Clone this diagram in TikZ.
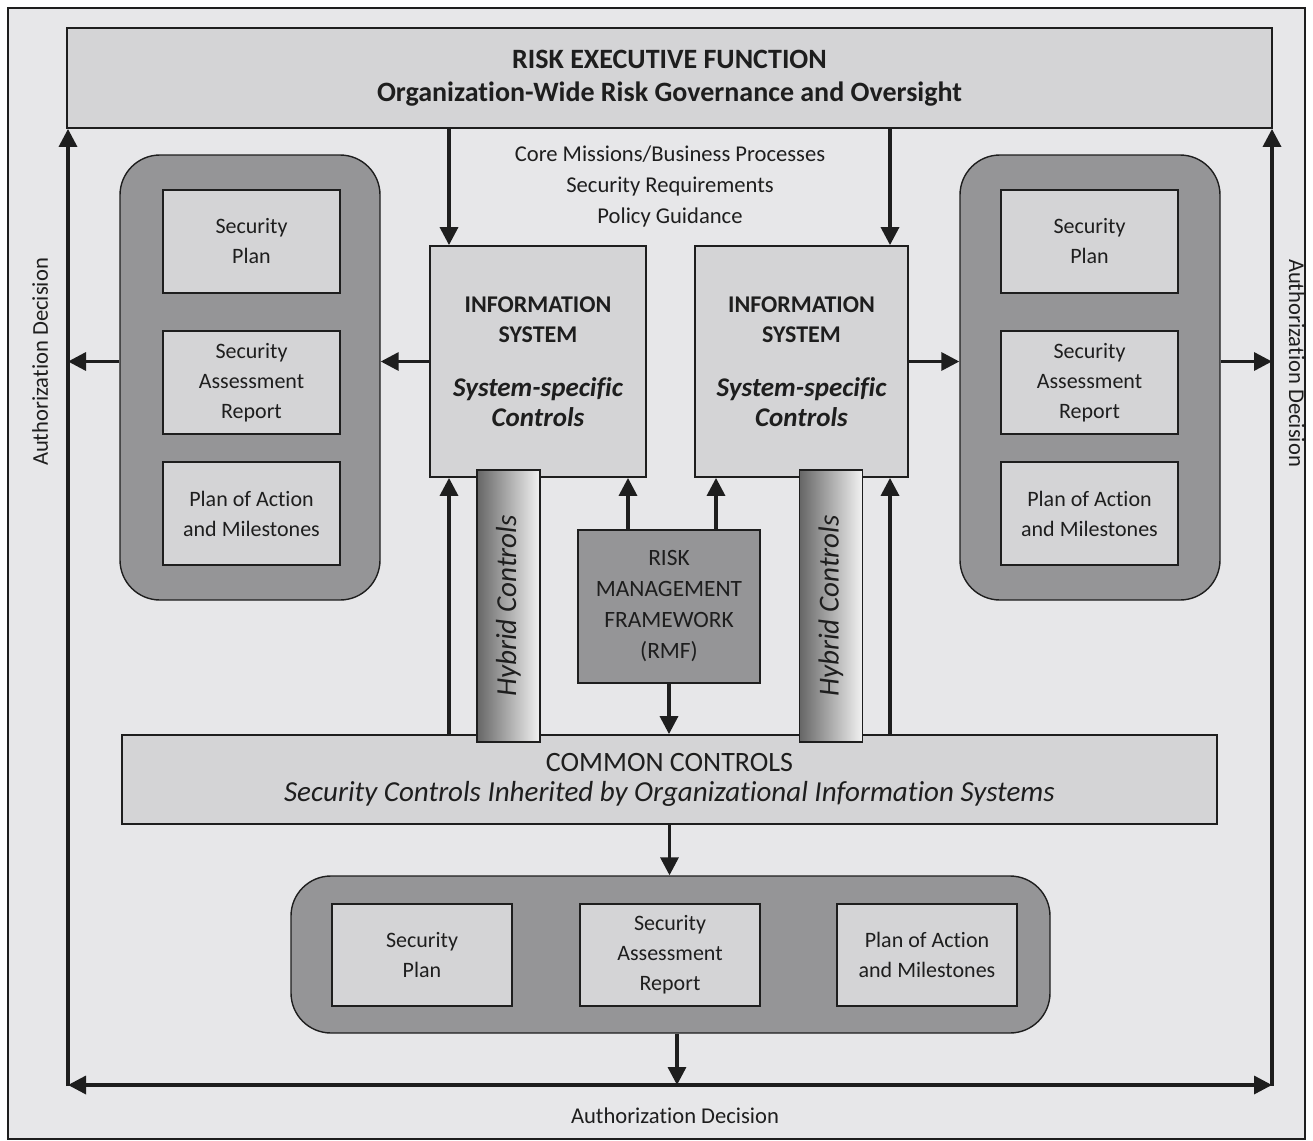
\documentclass[tikz,border=0pt]{standalone}
\usepackage{fontspec}
\setmainfont{Carlito}[Ligatures=NoCommon]
\usetikzlibrary{arrows.meta, positioning, calc}

\definecolor{framebg}{HTML}{E7E7E9}
\definecolor{boxgray}{HTML}{D4D4D6}
\definecolor{panelgray}{HTML}{959597}
\definecolor{ink}{HTML}{1E1E1E}

\begin{document}
\begin{tikzpicture}[x=0.5pt, y=-0.5pt,
    doc/.style={draw=ink, line width=0.9pt, fill=boxgray, minimum width=88.5pt, minimum height=51.5pt, inner sep=1pt, align=center, text=ink, font=\fontsize{11}{15}\selectfont},
    panel/.style={draw=ink, line width=0.7pt, fill=panelgray, rounded corners=20pt},
    sysbox/.style={draw=ink, line width=0.9pt, fill=boxgray, minimum height=115.5pt, inner sep=1pt, align=center, text=ink, font=\bfseries\fontsize{12}{15}\selectfont},
    hybrid/.style={draw=ink, line width=0.9pt, left color=black!60, right color=black!5, minimum width=31.5pt, minimum height=136pt, inner sep=0pt},
    arr/.style={draw=ink, line width=1.7pt, -{Triangle[length=9pt, width=9pt]}},
    lbl/.style={text=ink, font=\fontsize{11.3}{15.5}\selectfont, align=center}
]
    \useasboundingbox (0,0) rectangle (1313,1141);
    \fill[framebg, draw=ink, line width=0.7pt] (8,8) rectangle (1305,1139);

    % Risk executive function
    \node[draw=ink, line width=0.9pt, fill=boxgray, minimum width=602.5pt, minimum height=50pt, align=center, text=ink,
          font=\bfseries\fontsize{14}{16.5}\selectfont] (rexec) at (669.5,78)
        {RISK EXECUTIVE FUNCTION\\Organization-Wide Risk Governance and Oversight};

    \node[lbl] (core) at (670,186) {Core Missions/Business Processes\\Security Requirements\\Policy Guidance};

    % Left and right document panels
    \node[panel, minimum width=130pt, minimum height=222.5pt] (lgrp) at (250,377.5) {};
    \node[doc] (lsp) at (251.5,241.5) {Security\\Plan};
    \node[doc] (lsar) at (251.5,382.5) {Security\\Assessment\\Report};
    \node[doc] (lpoam) at (251.5,513.5) {Plan of Action\\and Milestones};

    \node[panel, minimum width=130pt, minimum height=222.5pt] (rgrp) at (1090,377.5) {};
    \node[doc] (rsp) at (1089.5,241.5) {Security\\Plan};
    \node[doc] (rsar) at (1089.5,382.5) {Security\\Assessment\\Report};
    \node[doc] (rpoam) at (1089.5,513.5) {Plan of Action\\and Milestones};

    % Information systems
    \node[sysbox, minimum width=108pt] (lis) at (538,361.5)
        {INFORMATION\\SYSTEM\\[12pt]\itshape\fontsize{13.5}{15}\selectfont System-specific\\\itshape\fontsize{13.5}{15}\selectfont Controls};
    \node[sysbox, minimum width=106.5pt] (ris) at (801.5,361.5)
        {INFORMATION\\SYSTEM\\[12pt]\itshape\fontsize{13.5}{15}\selectfont System-specific\\\itshape\fontsize{13.5}{15}\selectfont Controls};

    % RMF and common controls
    \node[draw=ink, line width=0.9pt, fill=panelgray, minimum width=91pt, minimum height=76.5pt, align=center, text=ink,
          font=\fontsize{11.7}{15.5}\selectfont] (rmf) at (669,606.5)
        {RISK\\MANAGEMENT\\FRAMEWORK\\(RMF)};
    \node[draw=ink, line width=0.9pt, fill=boxgray, minimum width=547.5pt, minimum height=44.5pt, align=center, text=ink,
          font=\fontsize{14}{15}\selectfont] (cc) at (669.5,779.5)
        {COMMON CONTROLS\\\itshape\fontsize{14.5}{15}\selectfont Security Controls Inherited by Organizational Information Systems};

    % Bottom document panel
    \node[panel, minimum width=379.5pt, minimum height=78.5pt] (bgrp) at (670.5,954.5) {};
    \node[doc, minimum width=90pt, minimum height=51pt] (bsp) at (422,955) {Security\\Plan};
    \node[doc, minimum width=90pt, minimum height=51pt] (bsar) at (670,955) {Security\\Assessment\\Report};
    \node[doc, minimum width=90pt, minimum height=51pt] (bpoam) at (927,955) {Plan of Action\\and Milestones};

    % Authorization decision loop
    \coordinate (bl) at (68,1085);
    \coordinate (br) at (1272,1085);
    \coordinate (bm) at (677,1085);
    \coordinate (ul) at (449,0);
    \coordinate (ur) at (890,0);
    \coordinate (rl) at (628,0);
    \coordinate (rr) at (716,0);

    \draw[arr] ($(bl)+(0,1)$) -- (bl |- rexec.south);
    \draw[arr] ($(br)+(0,1)$) -- (br |- rexec.south);
    \draw[arr] (bm) -- (bl);
    \draw[arr] (bm) -- (br);

    \node[lbl, rotate=90] (adl) at (40,362) {Authorization Decision};
    \node[lbl, rotate=-90] (adr) at (1297,363) {Authorization Decision};
    \node[lbl] (adb) at (675,1116) {Authorization Decision};

    % Arrows
    \draw[arr] (rexec.south -| ul) -- (lis.north -| ul);
    \draw[arr] (rexec.south -| ur) -- (ris.north -| ur);
    \draw[arr] (lis.west) -- (lis.west -| lgrp.east);
    \draw[arr] (lgrp.west |- lis.west) -- (lis.west -| bl);
    \draw[arr] (ris.east) -- (ris.east -| rgrp.west);
    \draw[arr] (rgrp.east |- ris.east) -- (ris.east -| br);
    \draw[arr] (cc.north -| ul) -- (lis.south -| ul);
    \draw[arr] (cc.north -| ur) -- (ris.south -| ur);
    \draw[arr] (rmf.north -| rl) -- (lis.south -| rl);
    \draw[arr] (rmf.north -| rr) -- (ris.south -| rr);
    \draw[arr] (rmf.south) -- (rmf.south |- cc.north);
    \draw[arr] (cc.south) -- (cc.south |- bgrp.north);
    \draw[arr] (bgrp.south -| bm) -- (bm);

    % Hybrid controls
    \node[hybrid] (lhyb) at (508.5,606) {};
    \node[rotate=90, text=ink, font=\itshape\fontsize{14.5}{16}\selectfont] (lhybt) at (lhyb) {Hybrid Controls};
    \node[hybrid] (rhyb) at (831,606) {};
    \node[rotate=90, text=ink, font=\itshape\fontsize{14.5}{16}\selectfont] (rhybt) at (rhyb) {Hybrid Controls};
\end{tikzpicture}
\end{document}
